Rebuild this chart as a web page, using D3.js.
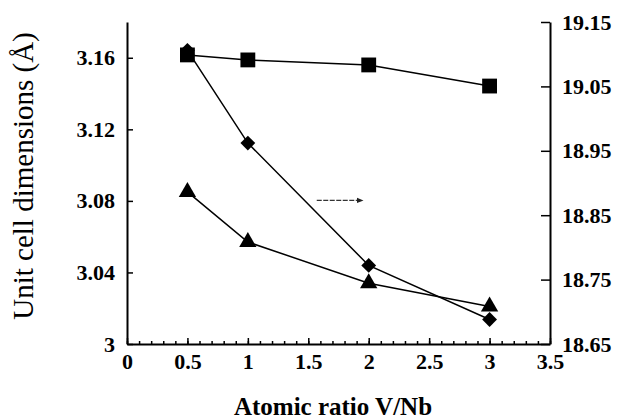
<!DOCTYPE html>
<html>
<head>
<meta charset="utf-8">
<script src="https://cdn.jsdelivr.net/npm/d3@7"></script>
<style>
body { margin: 0; background: #fff; }
text { font-family: "Liberation Serif", "Times New Roman", serif; fill: #000; }
</style>
</head>
<body>
<div id="viz"></div>
<script>

//Data
var ratios = [0.5, 1, 2, 3];
var squareVals = [3.1616, 3.1588, 3.156, 3.1442];     //left axis
var triangleVals = [3.085, 3.057, 3.034, 3.021];      //left axis
var diamondVals = [19.106, 18.962, 18.772, 18.688];   //right axis

var leftTicks = [3, 3.04, 3.08, 3.12, 3.16];
var rightTicks = [18.65, 18.75, 18.85, 18.95, 19.05, 19.15];
var xTicks = [0, 0.5, 1, 1.5, 2, 2.5, 3, 3.5];

//Arrow pointing to the right axis (data coords)
var arrowFrom = [1.57, 18.873];
var arrowTo = [1.93, 18.873];

var width = 620,
height = 420;

var plot = { left: 127, right: 550, top: 22, bottom: 344 };

var svg = d3.select("#viz")
.append("svg")
.attr("width", width)
.attr("height", height);

//Scales
var x = d3.scaleLinear().domain([0, 3.5]).range([plot.left, plot.right]);
var yLeft = d3.scaleLinear().domain([3, 3.18]).range([plot.bottom, plot.top]);
var yRight = d3.scaleLinear().domain([18.65, 19.15]).range([plot.bottom, plot.top]);

//Minor ticks on x axis
svg.append("g")
.attr("transform", "translate(0," + plot.bottom + ")")
.call(d3.axisBottom(x).tickValues(d3.range(0, 36).map(function(i) { return i / 10; }))
	.tickSizeInner(-3).tickSizeOuter(0).tickFormat(""))
.call(function(g) { g.select(".domain").remove(); });

//Major x axis
var xAxis = svg.append("g")
.attr("transform", "translate(0," + plot.bottom + ")")
.call(d3.axisBottom(x).tickValues(xTicks).tickSizeInner(-6).tickSizeOuter(0).tickPadding(9)
	.tickFormat(function(d) { return d; }));

//Left axis
var leftAxis = svg.append("g")
.attr("transform", "translate(" + plot.left + ",0)")
.call(d3.axisLeft(yLeft).tickValues(leftTicks).tickSizeInner(-6).tickSizeOuter(0).tickPadding(12)
	.tickFormat(function(d) { return d; }));

//Right axis
var rightAxis = svg.append("g")
.attr("transform", "translate(" + plot.right + ",0)")
.call(d3.axisRight(yRight).tickValues(rightTicks).tickSizeInner(-9).tickSizeOuter(0).tickPadding(12)
	.tickFormat(d3.format(".2f")));

[xAxis, leftAxis, rightAxis].forEach(function(g) {
	g.selectAll("text")
	.style("font-family", "'Liberation Serif', serif")
	.style("font-weight", "bold")
	.style("font-size", "22px")
	.attr("fill", "#000");
});

svg.selectAll(".domain").attr("stroke", "#000").attr("stroke-width", 2);
svg.selectAll(".tick line").attr("stroke", "#000").attr("stroke-width", 1.5);

//Axis titles
svg.append("text")
.attr("transform", "translate(33," + 176 + ") rotate(-90)")
.attr("text-anchor", "middle")
.style("font-size", "29px")
.text("Unit cell dimensions (\u00C5)");

svg.append("text")
.attr("x", 333)
.attr("y", 415)
.attr("text-anchor", "middle")
.style("font-size", "25px")
.style("font-weight", "bold")
.text("Atomic ratio V/Nb");

//Build point lists
var squares = ratios.map(function(r, i) { return { x: x(r), y: yLeft(squareVals[i]) }; });
var triangles = ratios.map(function(r, i) { return { x: x(r), y: yLeft(triangleVals[i]) }; });
var diamonds = ratios.map(function(r, i) { return { x: x(r), y: yRight(diamondVals[i]) }; });

var line = d3.line()
.x(function(d) { return d.x; })
.y(function(d) { return d.y; });

function drawSeries(points, symbol, size) {
	svg.append("path")
	.datum(points)
	.attr("d", line)
	.attr("fill", "none")
	.attr("stroke", "#000")
	.attr("stroke-width", 1.5);

	svg.selectAll(null)
	.data(points)
	.enter()
	.append("path")
	.attr("transform", function(d) { return "translate(" + d.x + "," + d.y + ")" + (symbol === "diamond" ? " rotate(45)" : ""); })
	.attr("d", d3.symbol().type(symbol === "triangle" ? d3.symbolTriangle : d3.symbolSquare).size(size))
	.attr("fill", "#000");
}

drawSeries(diamonds, "diamond", 110);
drawSeries(triangles, "triangle", 130);
drawSeries(squares, "square", 220);

//Arrow
svg.append("defs")
.append("marker")
.attr("id", "head")
.attr("viewBox", "0 0 10 10")
.attr("refX", 5)
.attr("refY", 5)
.attr("markerWidth", 5)
.attr("markerHeight", 5)
.attr("orient", "auto")
.append("path")
.attr("d", "M0,1 L10,5 L0,9 Z")
.attr("fill", "#222");

svg.append("line")
.attr("x1", x(arrowFrom[0]))
.attr("y1", yRight(arrowFrom[1]))
.attr("x2", x(arrowTo[0]))
.attr("y2", yRight(arrowTo[1]))
.attr("stroke", "#333")
.attr("stroke-width", 1.3)
.attr("stroke-dasharray", "5,1.5")
.attr("marker-end", "url(#head)");

</script>
</body>
</html>
